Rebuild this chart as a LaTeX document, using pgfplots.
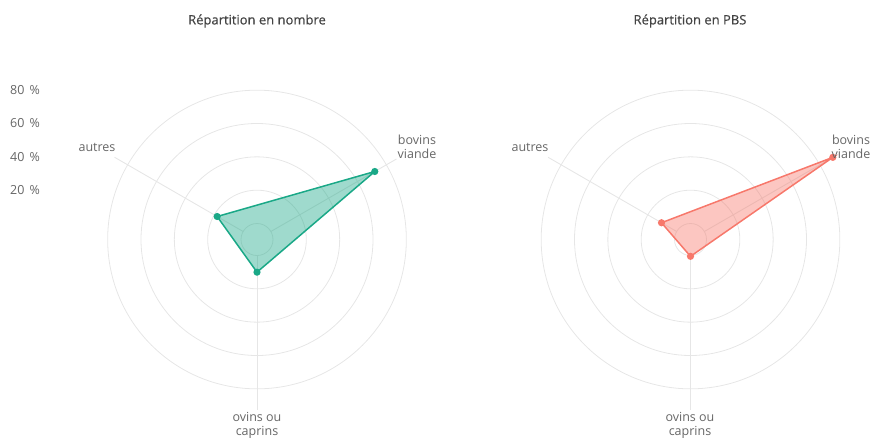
\documentclass[border=0pt]{standalone}
\usepackage{pgfplots}
\pgfplotsset{compat=1.18}
\usepackage{pgfplotstable}
\usepgfplotslibrary{polar}
\usepackage{fontspec}
\setmainfont{Open Sans}
\newfontfamily\titlefont[FakeBold=0.6]{Open Sans}
\definecolor{vert}{HTML}{1AA887}
\definecolor{rouge}{HTML}{F7786B}
\definecolor{grille}{HTML}{E6E6E6}
\definecolor{texte}{HTML}{666666}
\definecolor{titre}{HTML}{444444}

% angle (degrés), part (%)
\pgfplotstableread{
angle v
30 72
150 18
270 10
}\nombre
\pgfplotstableread{
angle v
30 89
150 10.5
270 0.5
}\pbs

\pgfplotsset{radar/.style={
  scale only axis, width=350pt, height=350pt,
  ymin=0, ymax=105, xmin=0, xmax=360,
  xtick=\empty,
  ytick={9.6,29.6,49.6,69.6,89.6}, yticklabels={},
  ymajorgrids, major grid style={grille, line width=0.8pt},
  axis line style={draw=none}, major tick style={draw=none},
  clip=false, anchor=origin,
}}

\begin{document}
\begin{tikzpicture}[font=\fontsize{12.5}{14}\selectfont]
\path[use as bounding box] (0pt,0pt) rectangle (875pt,440pt);

\begin{polaraxis}[radar, at={(257pt,200.5pt)}]
  \draw[grille, line width=0.9pt] (axis cs:30,9.6) -- (axis cs:30,96.6);
  \draw[grille, line width=0.9pt] (axis cs:150,9.6) -- (axis cs:150,98.7);
  \draw[grille, line width=0.9pt] (axis cs:270,9.6) -- (axis cs:270,102);
  \addplot[vert, line width=1.5pt, fill=vert, fill opacity=0.42,
    mark=*, mark size=2.8pt, mark options={fill=vert, fill opacity=1}]
    table[x=angle, y expr=\thisrow{v}+9.6] {\nombre} -- cycle;
\end{polaraxis}

\begin{polaraxis}[radar, at={(690.5pt,200.5pt)}]
  \draw[grille, line width=0.9pt] (axis cs:30,9.6) -- (axis cs:30,96.6);
  \draw[grille, line width=0.9pt] (axis cs:150,9.6) -- (axis cs:150,98.7);
  \draw[grille, line width=0.9pt] (axis cs:270,9.6) -- (axis cs:270,102);
  \addplot[rouge, line width=1.5pt, fill=rouge, fill opacity=0.42,
    mark=*, mark size=2.8pt, mark options={fill=rouge, fill opacity=1}]
    table[x=angle, y expr=\thisrow{v}+9.6] {\pbs} -- cycle;
\end{polaraxis}

% titres
\node[titre, font=\titlefont\fontsize{13}{15}\selectfont] at (257pt,419pt) {Répartition en nombre};
\node[titre, font=\titlefont\fontsize{13}{15}\selectfont] at (690pt,419pt) {Répartition en PBS};

% échelle
\node[texte, anchor=west, inner sep=0pt] at (10pt,350pt) {80\hspace{5pt}\%};
\node[texte, anchor=west, inner sep=0pt] at (10pt,317pt) {60\hspace{5pt}\%};
\node[texte, anchor=west, inner sep=0pt] at (10pt,283pt) {40\hspace{5pt}\%};
\node[texte, anchor=west, inner sep=0pt] at (10pt,250pt) {20\hspace{5pt}\%};

% libellés gauche
\node[texte] at (97pt,293pt) {autres};
\node[texte, align=center] at (417pt,293pt) {bovins\\viande};
\node[texte, align=center] at (257pt,15pt) {ovins ou\\caprins};
% libellés droite
\node[texte] at (530pt,293pt) {autres};
\node[texte, align=center] at (851pt,293pt) {bovins\\viande};
\node[texte, align=center] at (690pt,15pt) {ovins ou\\caprins};
\end{tikzpicture}
\end{document}
